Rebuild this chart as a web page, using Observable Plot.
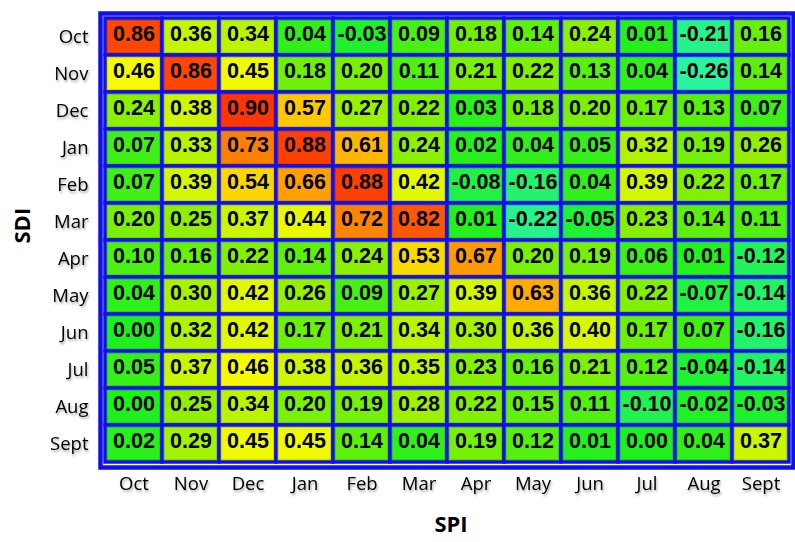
<!DOCTYPE html>
<html>
<head>
<meta charset="utf-8">
<script src="https://cdn.jsdelivr.net/npm/d3@7"></script>
<script src="https://cdn.jsdelivr.net/npm/@observablehq/plot@0.6"></script>
<style>
  html, body { margin: 0; padding: 0; background: #fff; }
  #chart svg { display: block; }
  .tick-lab text { filter: drop-shadow(1px 2px 1px rgba(0,0,0,0.35)); }
</style>
</head>
<body>
<div id="chart"></div>
<script>
// Month order of the hydrological year (SPI on x, SDI on y)
const months = ["Oct", "Nov", "Dec", "Jan", "Feb", "Mar", "Apr", "May", "Jun", "Jul", "Aug", "Sept"];

// Correlation between SDI (rows) and SPI (columns)
const rOct  = [0.86, 0.36, 0.34, 0.04, -0.03, 0.09, 0.18, 0.14, 0.24, 0.01, -0.21, 0.16];
const rNov  = [0.46, 0.86, 0.45, 0.18, 0.20, 0.11, 0.21, 0.22, 0.13, 0.04, -0.26, 0.14];
const rDec  = [0.24, 0.38, 0.90, 0.57, 0.27, 0.22, 0.03, 0.18, 0.20, 0.17, 0.13, 0.07];
const rJan  = [0.07, 0.33, 0.73, 0.88, 0.61, 0.24, 0.02, 0.04, 0.05, 0.32, 0.19, 0.26];
const rFeb  = [0.07, 0.39, 0.54, 0.66, 0.88, 0.42, -0.08, -0.16, 0.04, 0.39, 0.22, 0.17];
const rMar  = [0.20, 0.25, 0.37, 0.44, 0.72, 0.82, 0.01, -0.22, -0.05, 0.23, 0.14, 0.11];
const rApr  = [0.10, 0.16, 0.22, 0.14, 0.24, 0.53, 0.67, 0.20, 0.19, 0.06, 0.01, -0.12];
const rMay  = [0.04, 0.30, 0.42, 0.26, 0.09, 0.27, 0.39, 0.63, 0.36, 0.22, -0.07, -0.14];
const rJun  = [0.00, 0.32, 0.42, 0.17, 0.21, 0.34, 0.30, 0.36, 0.40, 0.17, 0.07, -0.16];
const rJul  = [0.05, 0.37, 0.46, 0.38, 0.36, 0.35, 0.23, 0.16, 0.21, 0.12, -0.04, -0.14];
const rAug  = [0.00, 0.25, 0.34, 0.20, 0.19, 0.28, 0.22, 0.15, 0.11, -0.10, -0.02, -0.03];
const rSept = [0.02, 0.29, 0.45, 0.45, 0.14, 0.04, 0.19, 0.12, 0.01, 0.00, 0.04, 0.37];

const rows = [rOct, rNov, rDec, rJan, rFeb, rMar, rApr, rMay, rJun, rJul, rAug, rSept];

// Colour ramp stops: aqua-green (negative) through green, yellow, orange to red
const colorStops = [-0.26, 0.0, 0.25, 0.46, 0.57, 0.67, 0.9];
const colorRange = ["#28f4a0", "#1ef01e", "#90f000", "#f5fa00", "#ffc800", "#ff9a00", "#ff3600"];

const cells = rows.flatMap((vals, i) =>
  vals.map((r, j) => ({sdi: months[i], spi: months[j], r}))
);

const blue = "#1010ee";
const fmt = v => v.toFixed(2);

const chart = Plot.plot({
  width: 795,
  height: 542,
  marginLeft: 100,
  marginRight: 2,
  marginTop: 13,
  marginBottom: 75,
  style: {fontFamily: "'Open Sans', sans-serif", background: "#fff"},
  x: {domain: months, padding: 0, label: null, axis: null},
  y: {domain: months, padding: 0, label: null, axis: null},
  color: {type: "linear", domain: colorStops, range: colorRange, interpolate: "rgb", clamp: true},
  marks: [
    Plot.cell(cells, {x: "spi", y: "sdi", fill: "r", stroke: blue, strokeWidth: 3.5}),
    Plot.cell(cells, {x: "spi", y: "sdi", inset: 2.5, fill: "none", stroke: "rgba(0,0,0,0.12)", strokeWidth: 1}),
    Plot.text(cells, {
      x: "spi", y: "sdi", text: d => fmt(d.r), dy: -3,
      fontSize: 21.5, fontWeight: "bold", fill: "#000",
      fontFamily: "'Liberation Sans', Arial, sans-serif",
      style: "letter-spacing:1.2px"
    }),
    Plot.frame({stroke: blue, strokeWidth: 4.5}),
    Plot.axisX({
      anchor: "bottom", tickSize: 0, tickPadding: 9, fontSize: 18.5,
      label: null, className: "tick-lab"
    }),
    Plot.axisY({
      anchor: "left", tickSize: 0, tickPadding: 12, fontSize: 18.5,
      label: null, className: "tick-lab"
    }),
    Plot.text(["SPI"], {
      frameAnchor: "bottom", dx: 4, dy: 64, text: d => d,
      fontSize: 22, fontWeight: "bold", fill: "#000"
    }),
    Plot.text(["SDI"], {
      frameAnchor: "left", dx: -78, dy: 3, rotate: -90, text: d => d,
      fontSize: 22, fontWeight: "bold", fill: "#000"
    })
  ]
});

document.getElementById("chart").appendChild(chart);
</script>
</body>
</html>
